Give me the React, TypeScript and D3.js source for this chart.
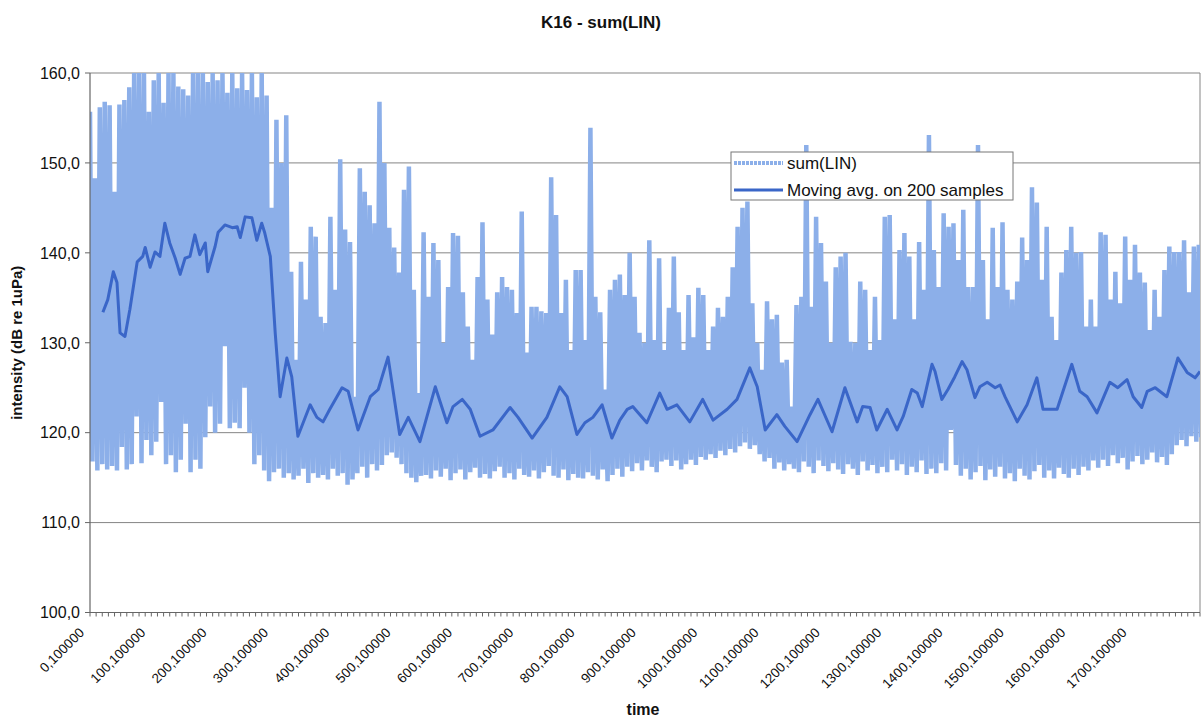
import React from "react";
import * as d3 from "d3";

// ---- text ----
const TITLE = "K16 - sum(LIN)";
const X_TITLE = "time";
const Y_TITLE = "intensity (dB re 1uPa)";
const LEGEND_RAW = "sum(LIN)";
const LEGEND_AVG = "Moving avg. on 200 samples";

// ---- axes ----
const yTickValues = [100, 110, 120, 130, 140, 150, 160];
const yTickLabels = ["100,0", "110,0", "120,0", "130,0", "140,0", "150,0", "160,0"];
const xTickTimes = [0, 100, 200, 300, 400, 500, 600, 700, 800, 900, 1000, 1100, 1200, 1300, 1400, 1500, 1600, 1700];
const xTickLabels = [
  "0,100000", "100,100000", "200,100000", "300,100000", "400,100000", "500,100000",
  "600,100000", "700,100000", "800,100000", "900,100000", "1000,100000", "1100,100000",
  "1200,100000", "1300,100000", "1400,100000", "1500,100000", "1600,100000", "1700,100000",
];
const TIME_MAX = 1810;
const MINOR_TICK_STEP = 10;

// ---- sum(LIN): alternating peak / trough samples, SAMPLE_STEP time units apart ----
const SAMPLE_STEP = 8;
const sumLinHigh = [
  155.7, 148.3, 156.2, 156.8, 156.4, 146.8, 156.5, 157.0, 158.4, 160, 160, 160, 155.7, 159.2, 160, 156.7,
  160, 160, 158.5, 158.2, 157.5, 160, 160, 160, 159.0, 160, 159.2, 160, 157.8, 160, 158.3, 160,
  158.1, 160, 157.3, 160, 157.5, 145.0, 154.8, 150.0, 155.3, 137.9, 128.1, 139.0, 134.8, 142.9,
  141.8, 132.9, 132.2, 144.0, 135.9, 150.4, 142.6, 141.2, 124.0, 149.4, 146.8, 145.3, 143.3, 156.8,
  150.0, 142.8, 140.6, 137.8, 147.0, 149.6, 135.9, 124.4, 142.3, 135.1, 141.1, 139.2, 130.0, 136.2,
  142.2, 141.9, 135.6, 131.8, 128.1, 137.3, 143.4, 134.8, 130.9, 135.6, 137.3, 136.2, 135.9, 133.3,
  144.6, 128.9, 134.0, 134.0, 133.5, 133.3, 148.4, 144.2, 133.3, 137.0, 129.2, 138.1, 138.1, 130.3,
  153.9, 135.1, 133.4, 124.8, 135.9, 137.0, 137.6, 135.3, 140.0, 135.1, 131.1, 130.0, 141.4, 130.3,
  139.4, 129.2, 133.9, 139.6, 133.4, 129.2, 135.3, 130.6, 136.1, 135.3, 129.2, 131.8, 133.9, 132.9,
  135.1, 138.4, 142.9, 145.0, 145.7, 134.4, 130.0, 127.0, 134.6, 132.6, 133.1, 127.8, 128.1, 122.9,
  134.2, 135.1, 152.0, 134.0, 144.0, 141.1, 136.8, 130.0, 138.4, 139.6, 140.0, 130.1, 130.0, 136.8,
  135.9, 129.2, 135.1, 130.3, 144.0, 144.2, 132.6, 140.3, 142.2, 139.6, 132.6, 141.2, 135.9, 153.1,
  140.3, 136.2, 144.4, 142.9, 143.3, 139.2, 144.8, 136.2, 136.2, 152.0, 139.2, 132.6, 142.8, 136.2,
  143.4, 135.9, 134.8, 136.8, 141.7, 139.2, 147.3, 145.6, 137.0, 142.9, 132.9, 130.3, 137.8, 140.3,
  142.9, 140.0, 140.1, 131.8, 134.8, 131.8, 142.3, 142.0, 134.8, 137.9, 134.4, 141.8, 137.0, 140.9,
  137.8, 136.7, 131.4, 135.9, 132.9, 138.1, 140.7, 140.1, 140.1, 141.4, 135.6, 140.7, 140.9,
];
const sumLinLow = [
  116.8, 115.8, 116.5, 115.9, 116.3, 115.8, 118.4, 115.9, 116.5, 121.8, 116.6, 119.2, 117.5, 119.0,
  123.4, 116.5, 117.5, 115.6, 117.0, 121.0, 115.6, 117.0, 116.0, 119.5, 122.9, 120.0, 121.0, 129.6,
  120.5, 121.1, 120.5, 125.0, 120.0, 116.5, 117.5, 115.8, 114.6, 115.6, 116.0, 115.0, 115.5, 114.8,
  115.2, 116.0, 114.4, 115.5, 115.0, 115.3, 114.8, 116.0, 115.2, 115.5, 114.2, 114.8, 115.5, 116.2,
  115.0, 116.5, 115.8, 116.4, 117.5, 117.8, 117.2, 116.5, 115.5, 115.0, 114.5, 115.2, 115.3, 114.9,
  115.8, 115.1, 116.0, 114.7, 115.5, 115.9, 114.8, 115.6, 116.1, 115.0, 115.4, 114.9, 115.7, 116.2,
  115.0, 115.5, 114.8, 116.0, 115.3, 115.1, 115.8, 114.9, 115.6, 116.3, 115.2, 115.0, 115.9, 114.7,
  115.4, 115.0, 114.9, 115.6, 115.2, 114.8, 115.9, 114.6, 115.3, 116.0, 115.1, 116.2, 115.7, 116.6,
  115.8, 116.9, 116.2, 115.6, 116.8, 117.0, 116.3, 116.9, 115.9, 116.5, 117.0, 116.4, 117.3, 117.0,
  117.6, 117.2, 118.0, 117.5, 118.2, 117.8, 118.5, 118.9, 118.2, 118.6, 117.6, 116.8, 117.2, 116.0,
  116.7, 115.8, 116.5, 116.0, 115.6, 116.8, 116.2, 115.5, 116.9, 116.3, 115.7, 116.6, 115.9, 115.4,
  116.5, 116.0, 115.3, 116.8, 115.8, 116.4, 115.5, 116.2, 115.6, 117.0, 115.8, 116.5, 115.3, 116.2,
  115.6, 116.9, 115.4, 116.0, 115.5, 116.6, 115.8, 120.3, 116.4, 115.2, 116.0, 114.8, 115.6, 116.3,
  114.7, 115.9, 115.1, 116.2, 114.9, 115.5, 114.6, 116.0, 115.2, 114.8, 115.7, 116.4, 115.0, 115.8,
  114.9, 116.1, 115.4, 115.0, 116.0, 115.3, 116.2, 115.8, 116.9, 116.1, 117.0, 116.3, 117.5, 116.6,
  117.2, 115.9, 116.8, 117.4, 116.5, 117.0, 117.8, 116.7, 117.3, 116.4, 117.6, 118.6, 119.2, 118.5,
  119.6, 119.0, 119.5,
];

// ---- moving average on 200 samples ----
const avgTime = [
  21, 29, 38, 44, 49, 57, 65, 77, 86, 90, 98, 106, 114, 122, 130, 139, 147, 155, 163, 171, 179, 188,
  192, 204, 209, 220, 232, 240, 245, 253, 264, 272, 280, 285, 294, 302, 310, 321, 329, 339, 359, 370,
  380, 391, 411, 421, 437, 457, 470, 486, 505, 519, 538, 563, 582, 592, 607, 620, 636, 657, 685, 698,
  721, 745, 766, 778, 794, 807, 820, 835, 851, 864, 876, 885, 908, 929, 941, 957, 978, 999, 1016,
  1039, 1055, 1076, 1088, 1101, 1120, 1133, 1153, 1174, 1187, 1210, 1231, 1251, 1260, 1272, 1283,
  1300, 1316, 1326, 1340, 1349, 1357, 1373, 1378, 1389, 1399, 1410, 1422, 1430, 1443, 1451, 1463,
  1476, 1484, 1492, 1512, 1528, 1544, 1554, 1577, 1601, 1614, 1626, 1642, 1663, 1676, 1691, 1701,
  1715, 1724, 1737, 1756, 1774, 1789, 1802, 1810,
];
const avgValue = [
  133.4, 134.8, 137.9, 136.7, 131.1, 130.7, 133.7, 139.0, 139.6, 140.6, 138.4, 140.1, 139.6, 143.3,
  141.1, 139.4, 137.6, 139.4, 139.6, 142.0, 139.8, 141.1, 137.9, 140.7, 142.3, 143.1, 142.8, 142.9,
  141.7, 144.0, 143.9, 141.4, 143.3, 142.2, 139.6, 131.1, 124.0, 128.3, 126.2, 119.6, 123.1, 121.7,
  121.2, 122.6, 125.0, 124.6, 120.3, 124.0, 124.8, 128.4, 119.8, 121.7, 119.0, 125.1, 121.1, 122.9,
  123.7, 122.6, 119.6, 120.3, 122.8, 121.7, 119.4, 121.7, 125.1, 124.0, 119.8, 121.1, 121.7, 123.1,
  119.4, 121.4, 122.6, 122.9, 121.1, 124.4, 122.6, 123.1, 121.2, 123.7, 121.4, 122.6, 123.7, 127.2,
  125.1, 120.3, 122.0, 120.7, 119.0, 122.0, 123.7, 120.1, 125.0, 121.2, 122.9, 122.8, 120.3, 122.6,
  120.3, 121.8, 124.8, 124.4, 122.9, 127.6, 126.8, 123.7, 124.8, 126.2, 127.9, 127.0, 123.9, 125.1,
  125.6, 125.0, 125.3, 124.0, 121.2, 123.1, 126.1, 122.6, 122.6, 127.6, 124.6, 124.0, 122.2, 125.6,
  125.0, 125.9, 124.0, 122.8, 124.6, 125.0, 124.0, 128.3, 126.7, 126.1, 126.8,
];

// ---- layout ----
const W = 1202;
const H = 723;
const PLOT = { left: 90, right: 1200, top: 73, bottom: 612.5 };
const FONT = "'Liberation Sans', Arial, Helvetica, sans-serif";
const RAW_COLOR = "#8cafe9";
const AVG_COLOR = "#3a66c8";
const GRID_COLOR = "#858585";
const AXIS_COLOR = "#666";

export default function App() {
  const x = d3.scaleLinear().domain([0, TIME_MAX]).range([PLOT.left, PLOT.right]);
  const y = d3.scaleLinear().domain([100, 160]).range([PLOT.bottom, PLOT.top]);

  const rawPoints: [number, number][] = [];
  sumLinHigh.forEach((v, i) => {
    rawPoints.push([i * SAMPLE_STEP, v]);
    if (i < sumLinLow.length) rawPoints.push([i * SAMPLE_STEP + SAMPLE_STEP / 2, sumLinLow[i]]);
  });
  const avgPoints: [number, number][] = avgTime.map((t, i) => [t, avgValue[i]]);

  const line = d3
    .line<[number, number]>()
    .x((d) => x(d[0]))
    .y((d) => y(d[1]));

  const minorTicks = d3.range(0, TIME_MAX + 1, MINOR_TICK_STEP);

  const legend = { x: 731, y: 152, w: 282, h: 48 };

  return (
    <svg
      width={W}
      height={H}
      viewBox={`0 0 ${W} ${H}`}
      style={{ position: "absolute", left: 0, top: 0, background: "#fff" }}
      fontFamily={FONT}
    >
      <defs>
        <clipPath id="plot-clip">
          <rect x={PLOT.left} y={PLOT.top} width={PLOT.right - PLOT.left} height={PLOT.bottom - PLOT.top} />
        </clipPath>
      </defs>
      <rect x={0} y={0} width={W} height={H} fill="#fff" />

      {/* title */}
      <text x={601} y={28} textAnchor="middle" fontSize={17} fontWeight="bold" fill="#111">
        {TITLE}
      </text>

      {/* horizontal gridlines */}
      {yTickValues.map((v) => (
        <line key={`g${v}`} x1={PLOT.left} x2={PLOT.right} y1={y(v)} y2={y(v)} stroke={GRID_COLOR} strokeWidth={1} />
      ))}
      {/* right border of the plot area */}
      <line x1={PLOT.right} x2={PLOT.right} y1={PLOT.top} y2={PLOT.bottom} stroke={GRID_COLOR} strokeWidth={1} />

      {/* series */}
      <g clipPath="url(#plot-clip)">
        <path d={line(rawPoints) || ""} fill="none" stroke={RAW_COLOR} strokeWidth={4.5} strokeLinejoin="bevel" />
        <path d={line(avgPoints) || ""} fill="none" stroke={AVG_COLOR} strokeWidth={3} strokeLinejoin="round" />
      </g>

      {/* y axis */}
      <line x1={PLOT.left} x2={PLOT.left} y1={PLOT.top} y2={PLOT.bottom} stroke={AXIS_COLOR} strokeWidth={1.2} />
      {yTickValues.map((v, i) => (
        <g key={`y${v}`}>
          <line x1={PLOT.left - 5} x2={PLOT.left} y1={y(v)} y2={y(v)} stroke={AXIS_COLOR} />
          <text x={80} y={y(v)} dy="0.36em" textAnchor="end" fontSize={16} fill="#111">
            {yTickLabels[i]}
          </text>
        </g>
      ))}

      {/* x axis */}
      <line x1={PLOT.left} x2={PLOT.right} y1={PLOT.bottom} y2={PLOT.bottom} stroke={AXIS_COLOR} strokeWidth={1.2} />
      {minorTicks.map((t) => (
        <line key={`t${t}`} x1={x(t)} x2={x(t)} y1={PLOT.bottom} y2={PLOT.bottom + 4} stroke={AXIS_COLOR} />
      ))}
      {xTickTimes.map((t, i) => (
        <text
          key={`xl${t}`}
          transform={`translate(${x(t) - 5},${PLOT.bottom + 21}) rotate(-45)`}
          textAnchor="end"
          fontSize={13.5}
          fill="#111"
        >
          {xTickLabels[i]}
        </text>
      ))}

      {/* axis titles */}
      <text x={643} y={715} textAnchor="middle" fontSize={16} fontWeight="bold" fill="#111">
        {X_TITLE}
      </text>
      <text
        transform={`translate(22,${(PLOT.top + PLOT.bottom) / 2}) rotate(-90)`}
        textAnchor="middle"
        fontSize={15}
        fontWeight="bold"
        fill="#111"
      >
        {Y_TITLE}
      </text>

      {/* legend */}
      <g>
        <rect x={legend.x} y={legend.y} width={legend.w} height={legend.h} fill="#fff" stroke="#777" strokeWidth={1} />
        <line x1={legend.x + 3} x2={legend.x + 52} y1={163} y2={163} stroke={RAW_COLOR} strokeWidth={4} strokeDasharray="3 1" />
        <text x={legend.x + 56} y={169} fontSize={17} fill="#111">
          {LEGEND_RAW}
        </text>
        <line x1={legend.x + 3} x2={legend.x + 52} y1={190} y2={190} stroke={AVG_COLOR} strokeWidth={3} />
        <text x={legend.x + 56} y={196} fontSize={17} fill="#111">
          {LEGEND_AVG}
        </text>
      </g>
    </svg>
  );
}
